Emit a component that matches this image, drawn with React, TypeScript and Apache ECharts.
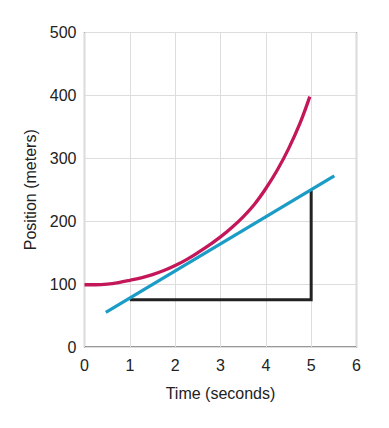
import React, { useEffect, useRef } from "react";
import * as echarts from "echarts";

const curveX = [0, 0.25, 0.5, 0.75, 1, 1.25, 1.5, 1.75, 2, 2.25, 2.5, 2.75, 3, 3.25, 3.5, 3.75, 4, 4.25, 4.5, 4.75, 4.97];
const curveY = [99, 99, 100, 102.5, 106, 110, 115, 121.5, 129.5, 139, 150, 162, 175, 190, 207, 227, 252, 281, 315, 355, 398];
const tangentX = [0.47, 5.51];
const tangentY = [55, 272];
const triangleX = [1, 5, 5];
const triangleY = [75, 75, 249];
const xTicks = [0, 1, 2, 3, 4, 5, 6];
const yTicks = [0, 100, 200, 300, 400, 500];

const FONT = "Liberation Sans";

export default function App() {
  const ref = useRef<HTMLDivElement>(null);
  useEffect(() => {
    const chart = echarts.init(ref.current!, null, { renderer: "svg" });
    const zip = (xs: number[], ys: number[]) => xs.map((x, i) => [x, ys[i]]);
    chart.setOption({
      animation: false,
      backgroundColor: "#ffffff",
      grid: {
        left: 84.5,
        right: 32.5,
        top: 32.5,
        bottom: 81,
        show: true,
        borderColor: "#333333",
        borderWidth: 1.2,
      },
      xAxis: {
        type: "value",
        min: xTicks[0],
        max: xTicks[xTicks.length - 1],
        interval: 1,
        name: "Time (seconds)",
        nameLocation: "middle",
        nameGap: 38,
        nameTextStyle: { fontFamily: FONT, fontSize: 16, color: "#222" },
        axisLine: { show: false },
        axisTick: { show: false },
        axisLabel: { fontFamily: FONT, fontSize: 16, color: "#222", margin: 10 },
        splitLine: { show: true, lineStyle: { color: "#dddddd", width: 1 } },
      },
      yAxis: {
        type: "value",
        min: yTicks[0],
        max: yTicks[yTicks.length - 1],
        interval: 100,
        name: "Position (meters)",
        nameLocation: "middle",
        nameGap: 46,
        nameTextStyle: { fontFamily: FONT, fontSize: 16, color: "#222" },
        axisLine: { show: false },
        axisTick: { show: false },
        axisLabel: { fontFamily: FONT, fontSize: 16, color: "#222", margin: 8 },
        splitLine: { show: true, lineStyle: { color: "#dddddd", width: 1 } },
      },
      series: [
        {
          type: "line",
          data: zip(triangleX, triangleY),
          showSymbol: false,
          lineStyle: { color: "#222222", width: 3, join: "miter" },
          z: 2,
        },
        {
          type: "line",
          data: zip(tangentX, tangentY),
          showSymbol: false,
          lineStyle: { color: "#1a9cc6", width: 3.3 },
          z: 3,
        },
        {
          type: "line",
          data: zip(curveX, curveY),
          smooth: 0.4,
          showSymbol: false,
          lineStyle: { color: "#c4175a", width: 3.3 },
          z: 4,
        },
      ],
    });
    return () => chart.dispose();
  }, []);
  return (
    <div
      ref={ref}
      style={{ position: "fixed", left: 0, top: 0, width: 389, height: 428, background: "#fff" }}
    />
  );
}
